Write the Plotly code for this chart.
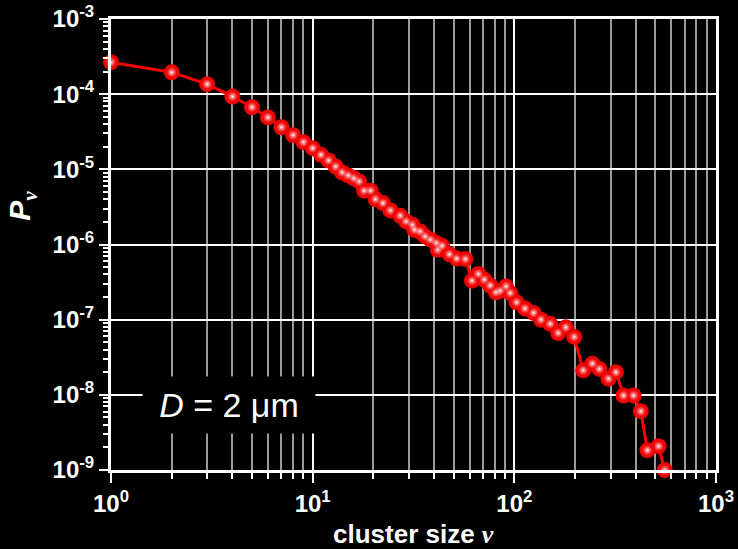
import plotly.graph_objects as go

cluster_size = [1, 2, 3, 4, 5, 6, 7, 8, 9, 10, 11, 12, 13, 14, 15, 16, 17, 18,
                19.4, 20.5, 22.3, 24.3, 27.2, 29.1, 31.2, 32.0, 34.1, 36.1, 38.4,
                41.0, 41.7, 43.8, 47.7, 51.8, 57.2, 61.7, 66.3, 71.0, 76.0, 81.1,
                85.2, 91.0, 95.5, 102.6, 113, 124.6, 135.6, 150.7, 165, 180, 198,
                219.6, 244, 264, 293, 319, 348, 390, 424, 457, 519, 557]
P_nu = [2.66e-4, 1.95e-4, 1.36e-4, 9.3e-5, 6.7e-5, 4.9e-5, 3.63e-5, 2.85e-5,
        2.3e-5, 1.91e-5, 1.56e-5, 1.31e-5, 1.09e-5, 9.1e-6, 8.3e-6, 7.6e-6,
        6.9e-6, 5.2e-6, 5.2e-6, 4.0e-6, 3.56e-6, 2.84e-6, 2.41e-6, 2.03e-6,
        1.83e-6, 1.57e-6, 1.49e-6, 1.28e-6, 1.16e-6, 1.05e-6, 8.5e-7, 9.6e-7,
        7.4e-7, 6.5e-7, 6.4e-7, 3.3e-7, 4.05e-7, 3.4e-7, 2.85e-7, 2.31e-7,
        2.43e-7, 2.77e-7, 2.26e-7, 1.70e-7, 1.41e-7, 1.23e-7, 1.0e-7, 8.8e-8,
        6.65e-8, 7.9e-8, 5.9e-8, 2.12e-8, 2.6e-8, 2.21e-8, 1.64e-8, 2.0e-8,
        9.8e-9, 9.8e-9, 6.05e-9, 1.83e-9, 2.07e-9, 1.0e-9]

x_tickvals = [1, 10, 100, 1000]
x_ticktext = ["<b>10<sup>0</sup></b>", "<b>10<sup>1</sup></b>",
              "<b>10<sup>2</sup></b>", "<b>10<sup>3</sup></b>"]
y_tickvals = [1e-9, 1e-8, 1e-7, 1e-6, 1e-5, 1e-4, 1e-3]
y_ticktext = ["<b>10<sup>-9</sup></b>", "<b>10<sup>-8</sup></b>", "<b>10<sup>-7</sup></b>",
              "<b>10<sup>-6</sup></b>", "<b>10<sup>-5</sup></b>", "<b>10<sup>-4</sup></b>",
              "<b>10<sup>-3</sup></b>"]

FONT = "Liberation Sans, Arial, sans-serif"

fig = go.Figure()
# base red ball (marker.color = edge, gradient.color = centre)
fig.add_trace(go.Scatter(
    x=cluster_size, y=P_nu, mode="lines+markers", cliponaxis=False,
    line=dict(color="#ff0000", width=3),
    marker=dict(size=16, color="#e60000", line=dict(width=0),
                gradient=dict(type="radial", color="#ff1a1a")),
    showlegend=False, hoverinfo="skip"))
# white highlight
fig.add_trace(go.Scatter(
    x=cluster_size, y=P_nu, mode="markers", cliponaxis=False,
    marker=dict(size=9, color="rgba(255,120,120,0.15)", line=dict(width=0),
                gradient=dict(type="radial", color="#ffffff")),
    showlegend=False, hoverinfo="skip"))

fig.update_layout(
    width=738, height=549,
    paper_bgcolor="black", plot_bgcolor="black",
    margin=dict(l=111, r=22, t=19, b=79, autoexpand=False),
    font=dict(family=FONT, color="white"),
    xaxis=dict(
        type="log", range=[0, 3], automargin=False,
        tickmode="array", tickvals=x_tickvals, ticktext=x_ticktext,
        tickfont=dict(family=FONT, size=24, color="white"),
        ticks="outside", ticklen=10, tickwidth=2, tickcolor="white",
        showgrid=True, gridcolor="white", gridwidth=2,
        showline=True, linecolor="white", linewidth=3, mirror=True,
        zeroline=False,
        minor=dict(dtick="D1", ticks="outside", ticklen=6, tickwidth=2,
                   tickcolor="white", showgrid=True, gridcolor="#9a9a9a", gridwidth=2),
    ),
    yaxis=dict(
        type="log", range=[-9, -3], automargin=False,
        tickmode="array", tickvals=y_tickvals, ticktext=y_ticktext,
        tickfont=dict(family=FONT, size=24, color="white"),
        ticks="outside", ticklen=9, tickwidth=2, tickcolor="white",
        showgrid=True, gridcolor="white", gridwidth=2,
        showline=True, linecolor="white", linewidth=3, mirror=True,
        zeroline=False,
        minor=dict(dtick="D1", ticks="outside", ticklen=5, tickwidth=2,
                   tickcolor="white", showgrid=False),
    ),
)

fig.add_annotation(
    xref="paper", yref="paper", x=0.5, y=-0.141, xanchor="center", yanchor="middle",
    text="<b>cluster size </b><span style=\"font-family:'Liberation Serif'\"><b><i>ν</i></b></span>",
    showarrow=False, font=dict(family=FONT, size=26, color="white"))

fig.add_annotation(
    xref="paper", yref="paper", x=-0.147, y=0.586, xanchor="center", yanchor="middle",
    textangle=-90,
    text="<b><i>P</i></b><sub><span style=\"font-family:'Liberation Serif'\"><b><i>ν</i></b></span></sub>",
    showarrow=False, font=dict(family=FONT, size=30, color="white"))

fig.add_annotation(
    xref="paper", yref="paper", x=0.195, y=0.145, xanchor="center", yanchor="middle",
    text="<i>D</i> = 2 μm", width=172, height=56, bgcolor="black", borderpad=0,
    showarrow=False, font=dict(family=FONT, size=34, color="white"))

fig.write_html("out.html")
